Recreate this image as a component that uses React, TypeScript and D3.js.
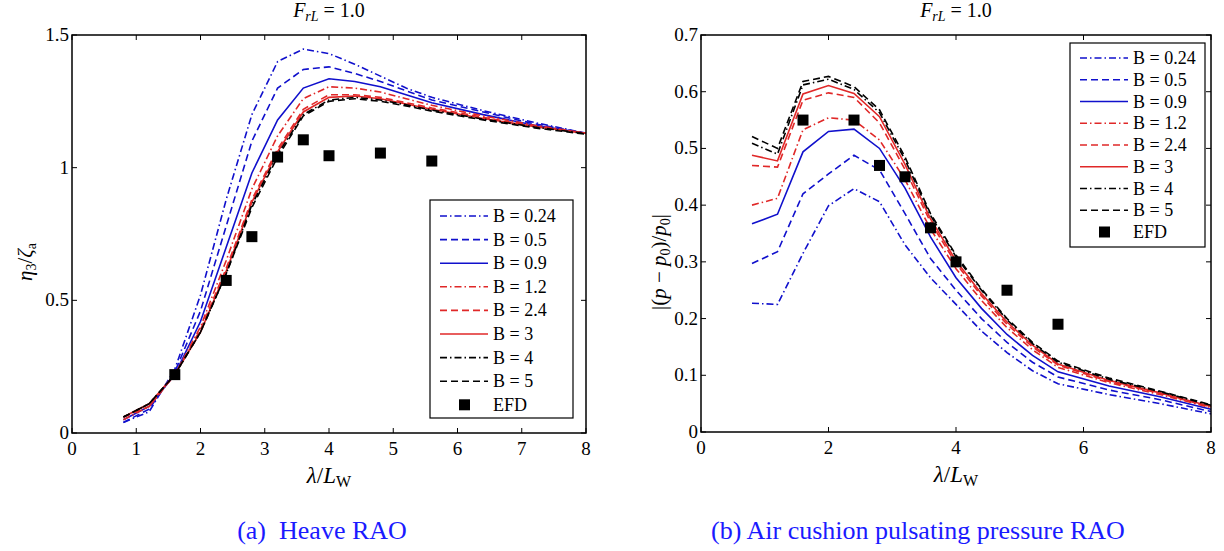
import React from "react";
import { scaleLinear, line } from "d3";

// wave length ratio λ/Lw where the curves were computed
const lambdas = [0.8, 1.2, 1.6, 2.0, 2.4, 2.8, 3.2, 3.6, 4.0, 4.4, 4.8, 5.2, 5.6, 6.4, 7.2, 8.0];
const bLabels = ["B = 0.24", "B = 0.5", "B = 0.9", "B = 1.2", "B = 2.4", "B = 3", "B = 4", "B = 5"];

const heave = [
  [0.04, 0.08, 0.24, 0.52, 0.88, 1.2, 1.4, 1.447, 1.43, 1.39, 1.345, 1.3, 1.265, 1.215, 1.17, 1.13],
  [0.04, 0.09, 0.23, 0.46, 0.78, 1.1, 1.3, 1.37, 1.38, 1.355, 1.325, 1.29, 1.255, 1.21, 1.165, 1.13],
  [0.05, 0.1, 0.22, 0.42, 0.7, 0.98, 1.18, 1.3, 1.335, 1.325, 1.305, 1.275, 1.245, 1.2, 1.16, 1.13],
  [0.05, 0.1, 0.22, 0.4, 0.65, 0.92, 1.12, 1.26, 1.305, 1.3, 1.285, 1.26, 1.235, 1.195, 1.16, 1.13],
  [0.06, 0.1, 0.22, 0.39, 0.62, 0.88, 1.07, 1.22, 1.275, 1.275, 1.265, 1.245, 1.225, 1.19, 1.155, 1.13],
  [0.06, 0.11, 0.22, 0.38, 0.61, 0.87, 1.06, 1.21, 1.265, 1.27, 1.26, 1.24, 1.22, 1.185, 1.155, 1.13],
  [0.06, 0.11, 0.22, 0.38, 0.6, 0.86, 1.05, 1.2, 1.255, 1.265, 1.255, 1.237, 1.217, 1.183, 1.153, 1.128],
  [0.06, 0.11, 0.22, 0.38, 0.6, 0.85, 1.04, 1.195, 1.25, 1.26, 1.25, 1.233, 1.213, 1.18, 1.15, 1.126],
];

const pressure = [
  [0.227, 0.225, 0.315, 0.399, 0.429, 0.406, 0.33, 0.272, 0.225, 0.178, 0.14, 0.108, 0.085, 0.066, 0.05, 0.032],
  [0.297, 0.318, 0.42, 0.455, 0.488, 0.462, 0.385, 0.306, 0.25, 0.2, 0.158, 0.123, 0.097, 0.074, 0.057, 0.036],
  [0.367, 0.384, 0.494, 0.53, 0.534, 0.5, 0.43, 0.344, 0.272, 0.218, 0.172, 0.135, 0.106, 0.081, 0.062, 0.04],
  [0.4, 0.412, 0.533, 0.554, 0.55, 0.515, 0.445, 0.358, 0.288, 0.232, 0.184, 0.145, 0.114, 0.087, 0.066, 0.043],
  [0.47, 0.467, 0.585, 0.598, 0.59, 0.545, 0.463, 0.37, 0.297, 0.24, 0.19, 0.15, 0.118, 0.089, 0.068, 0.044],
  [0.488, 0.478, 0.596, 0.611, 0.597, 0.556, 0.472, 0.376, 0.302, 0.244, 0.194, 0.153, 0.12, 0.091, 0.069, 0.045],
  [0.509, 0.49, 0.612, 0.622, 0.604, 0.563, 0.48, 0.382, 0.309, 0.25, 0.198, 0.156, 0.123, 0.093, 0.071, 0.047],
  [0.521, 0.5, 0.618, 0.627, 0.609, 0.568, 0.485, 0.385, 0.312, 0.252, 0.2, 0.158, 0.125, 0.095, 0.072, 0.048],
];

const efdX = [1.6, 2.4, 2.8, 3.2, 3.6, 4.0, 4.8, 5.6];
const efdHeave = [0.22, 0.575, 0.74, 1.04, 1.105, 1.045, 1.055, 1.025];
const efdPressure = [0.55, 0.55, 0.47, 0.45, 0.36, 0.3, 0.25, 0.19];

const heaveXTicks = [0, 1, 2, 3, 4, 5, 6, 7, 8];
const heaveYTicks = [0, 0.5, 1, 1.5];
const heaveYLabels = ["0", "0.5", "1", "1.5"];
const pressXTicks = [0, 2, 4, 6, 8];
const pressYTicks = [0, 0.1, 0.2, 0.3, 0.4, 0.5, 0.6, 0.7];

const BLUE = "#1010cc";
const RED = "#e02828";
const colors = [BLUE, BLUE, BLUE, RED, RED, RED, "#000", "#000"];
const DASH = "7,4";
const DASHDOT = "7,3,1.5,3";
const dashes = [DASHDOT, DASH, null, DASHDOT, DASH, null, DASHDOT, DASH];

const FONT = "Liberation Serif, Times New Roman, serif";

function Panel(props) {
  const { x0, x1, y0, y1, yMax, xTicks, yTicks, yLabels, series, efd, legend, ylabel } = props;
  const x = scaleLinear().domain([0, 8]).range([x0, x1]);
  const y = scaleLinear().domain([0, yMax]).range([y1, y0]);
  const gen = line<number>()
    .x((_, i) => x(lambdas[i]))
    .y((d) => y(d));
  const tk = 5;
  const rowH = legend.step;

  return (
    <g style={{ fontFamily: FONT }}>
      {xTicks.map((t) => (
        <g key={"x" + t}>
          <line x1={x(t)} x2={x(t)} y1={y1} y2={y1 - tk} stroke="#000" />
          <line x1={x(t)} x2={x(t)} y1={y0} y2={y0 + tk} stroke="#000" />
          <text x={x(t)} y={y1 + 22} textAnchor="middle" fontSize={19}>{t}</text>
        </g>
      ))}
      {yTicks.map((t, i) => (
        <g key={"y" + t}>
          <line x1={x0} x2={x0 + tk} y1={y(t)} y2={y(t)} stroke="#000" />
          <line x1={x1} x2={x1 - tk} y1={y(t)} y2={y(t)} stroke="#000" />
          <text x={x0 - 3} y={y(t) + 6} textAnchor="end" fontSize={19}>
            {yLabels ? yLabels[i] : t.toFixed(1).replace(/^0\.0$/, "0")}
          </text>
        </g>
      ))}
      {series.map((s, i) => (
        <path key={"s" + i} d={gen(s)} fill="none" stroke={colors[i]} strokeWidth={1.6}
          strokeDasharray={dashes[i] || undefined} />
      ))}
      {efd.map((v, i) => (
        <rect key={"e" + i} x={x(efdX[i]) - 5.5} y={y(v) - 5.5} width={11} height={11} fill="#000" />
      ))}
      <rect x={x0} y={y0} width={x1 - x0} height={y1 - y0} fill="none" stroke="#000" strokeWidth={1.5} />
      <g>
        <rect x={legend.x} y={legend.y} width={legend.w} height={legend.h} fill="#fff" stroke="#000" strokeWidth={1.2} />
        {bLabels.map((b, i) => {
          const ry = legend.y + legend.first + i * rowH;
          return (
            <g key={"l" + i}>
              <line x1={legend.x + 10} x2={legend.x + 58} y1={ry} y2={ry} stroke={colors[i]}
                strokeWidth={1.6} strokeDasharray={dashes[i] || undefined} />
              <text x={legend.x + 63} y={ry + 6} fontSize={18}>{b}</text>
            </g>
          );
        })}
        <rect x={legend.x + 29} y={legend.y + legend.first + 8 * rowH - 5.5} width={11} height={11} fill="#000" />
        <text x={legend.x + 63} y={legend.y + legend.first + 8 * rowH + 6} fontSize={18}>EFD</text>
      </g>
      <text x={(x0 + x1) / 2} y={17} textAnchor="middle" fontSize={20}>
        <tspan fontStyle="italic">F</tspan>
        <tspan fontStyle="italic" fontSize={14} dy={4}>rL</tspan>
        <tspan dy={-4}> = 1.0</tspan>
      </text>
      <text x={(x0 + x1) / 2} y={y1 + 50} textAnchor="middle" fontSize={23}>
        <tspan fontStyle="italic">λ</tspan>
        <tspan>/</tspan>
        <tspan fontStyle="italic">L</tspan>
        <tspan fontSize={16} dy={4}>W</tspan>
      </text>
      <text transform={`translate(${ylabel.x},${ylabel.y}) rotate(-90)`} textAnchor="middle" fontSize={21}>
        {ylabel.content}
      </text>
    </g>
  );
}

export default function App() {
  return (
    <svg width={1224} height={551} style={{ position: "absolute", left: 0, top: 0, background: "#fff", fontFamily: FONT }}>
      <Panel
        x0={72} x1={586} y0={35} y1={433} yMax={1.5}
        xTicks={heaveXTicks} yTicks={heaveYTicks} yLabels={heaveYLabels}
        series={heave} efd={efdHeave}
        legend={{ x: 430, y: 200, w: 143, h: 218, first: 16, step: 23.6 }}
        ylabel={{
          x: 32, y: 262,
          content: (
            <>
              <tspan fontStyle="italic">η</tspan>
              <tspan fontSize={14} dy={4}>3</tspan>
              <tspan dy={-4}>/</tspan>
              <tspan fontStyle="italic">ζ</tspan>
              <tspan fontSize={14} dy={4}>a</tspan>
            </>
          ),
        }}
      />
      <Panel
        x0={701} x1={1211} y0={35} y1={432} yMax={0.7}
        xTicks={pressXTicks} yTicks={pressYTicks}
        series={pressure} efd={efdPressure}
        legend={{ x: 1070, y: 43, w: 135, h: 204, first: 15, step: 21.75 }}
        ylabel={{
          x: 666, y: 262,
          content: (
            <>
              <tspan>|(</tspan>
              <tspan fontStyle="italic">p</tspan>
              <tspan> − </tspan>
              <tspan fontStyle="italic">p</tspan>
              <tspan fontSize={14} dy={4}>0</tspan>
              <tspan dy={-4}>)/</tspan>
              <tspan fontStyle="italic">p</tspan>
              <tspan fontSize={14} dy={4}>0</tspan>
              <tspan dy={-4}>|</tspan>
            </>
          ),
        }}
      />
      <text x={322} y={539} textAnchor="middle" fontSize={26} fill="#1a1aff" xmlSpace="preserve">
        (a)  Heave RAO
      </text>
      <text x={918} y={539} textAnchor="middle" fontSize={26} fill="#1a1aff">
        (b) Air cushion pulsating pressure RAO
      </text>
    </svg>
  );
}
